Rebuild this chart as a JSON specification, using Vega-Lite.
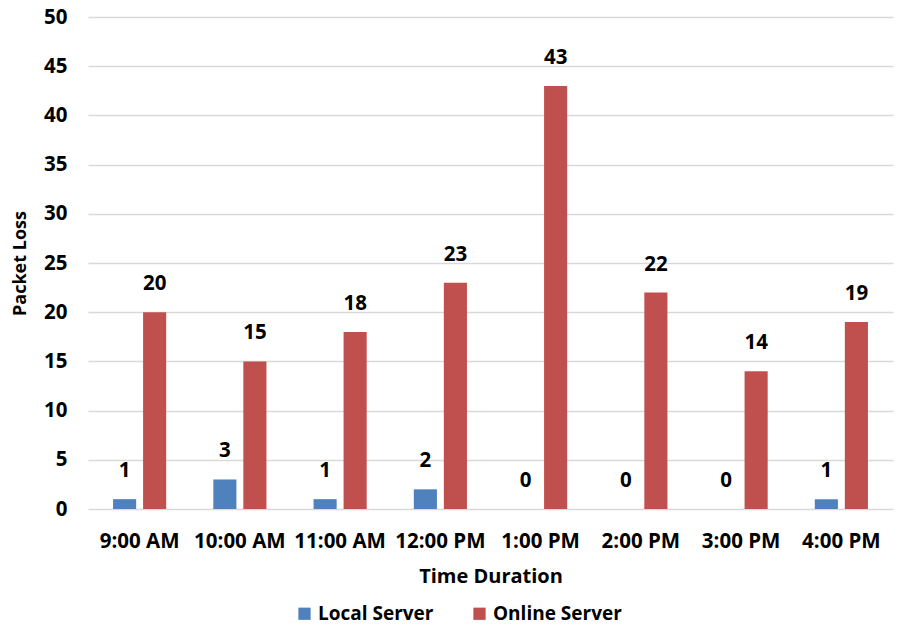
{
  "$schema": "https://vega.github.io/schema/vega-lite/v6.json",
  "width": 805,
  "height": 492,
  "autosize": {"type": "none"},
  "padding": {"left": 88, "top": 17, "right": 8, "bottom": 118},
  "background": "white",
  "config": {
    "font": "Open Sans",
    "view": {"stroke": null},
    "axis": {"labelFont": "Open Sans", "titleFont": "Open Sans"}
  },
  "data": {
    "values": [
      {"time": "9:00 AM", "server": "Local Server", "loss": 1},
      {"time": "9:00 AM", "server": "Online Server", "loss": 20},
      {"time": "10:00 AM", "server": "Local Server", "loss": 3},
      {"time": "10:00 AM", "server": "Online Server", "loss": 15},
      {"time": "11:00 AM", "server": "Local Server", "loss": 1},
      {"time": "11:00 AM", "server": "Online Server", "loss": 18},
      {"time": "12:00 PM", "server": "Local Server", "loss": 2},
      {"time": "12:00 PM", "server": "Online Server", "loss": 23},
      {"time": "1:00 PM", "server": "Local Server", "loss": 0},
      {"time": "1:00 PM", "server": "Online Server", "loss": 43},
      {"time": "2:00 PM", "server": "Local Server", "loss": 0},
      {"time": "2:00 PM", "server": "Online Server", "loss": 22},
      {"time": "3:00 PM", "server": "Local Server", "loss": 0},
      {"time": "3:00 PM", "server": "Online Server", "loss": 14},
      {"time": "4:00 PM", "server": "Local Server", "loss": 1},
      {"time": "4:00 PM", "server": "Online Server", "loss": 19}
    ]
  },
  "encoding": {
    "x": {
      "field": "time",
      "type": "nominal",
      "sort": null,
      "scale": {"paddingInner": 0.47, "paddingOuter": 0.25},
      "axis": {
        "title": "Time Duration",
        "labelAngle": 0,
        "labelFontSize": 20.5,
        "labelFontWeight": "bold",
        "labelColor": "#000000",
        "labelPadding": 22,
        "ticks": false,
        "domain": false,
        "titleFontSize": 20,
        "titleFontWeight": "bold",
        "titleColor": "#000000",
        "titlePadding": 15
      }
    },
    "xOffset": {
      "field": "server",
      "type": "nominal",
      "scale": {"paddingInner": 0.23, "paddingOuter": 0}
    },
    "y": {
      "field": "loss",
      "type": "quantitative",
      "scale": {"domain": [0, 50]},
      "axis": {
        "title": "Packet Loss",
        "values": [0, 5, 10, 15, 20, 25, 30, 35, 40, 45, 50],
        "labelFontSize": 20.5,
        "labelFontWeight": "bold",
        "labelColor": "#000000",
        "labelPadding": 21,
        "ticks": false,
        "domain": false,
        "gridColor": "#D9D9D9",
        "gridWidth": 1.5,
        "titleFontSize": 18,
        "titleFontWeight": "bold",
        "titleColor": "#000000",
        "titlePadding": 14
      }
    }
  },
  "layer": [
    {
      "mark": {"type": "bar"},
      "encoding": {
        "color": {
          "field": "server",
          "type": "nominal",
          "scale": {"domain": ["Local Server", "Online Server"], "range": ["#4F81BD", "#C0504D"]},
          "legend": {
            "title": null,
            "orient": "none",
            "direction": "horizontal",
            "legendX": 207,
            "legendY": 587,
            "symbolType": "square",
            "symbolSize": 150,
            "symbolStrokeWidth": 0,
            "labelFontSize": 19,
            "labelFontWeight": "bold",
            "labelColor": "#000000",
            "labelFont": "Open Sans",
            "columnPadding": 36,
            "labelOffset": 4
          }
        }
      }
    },
    {
      "mark": {"type": "text", "baseline": "bottom", "dy": -18, "fontSize": 20.5, "fontWeight": "bold", "color": "#000000"},
      "encoding": {
        "text": {"field": "loss", "type": "quantitative"}
      }
    }
  ]
}
